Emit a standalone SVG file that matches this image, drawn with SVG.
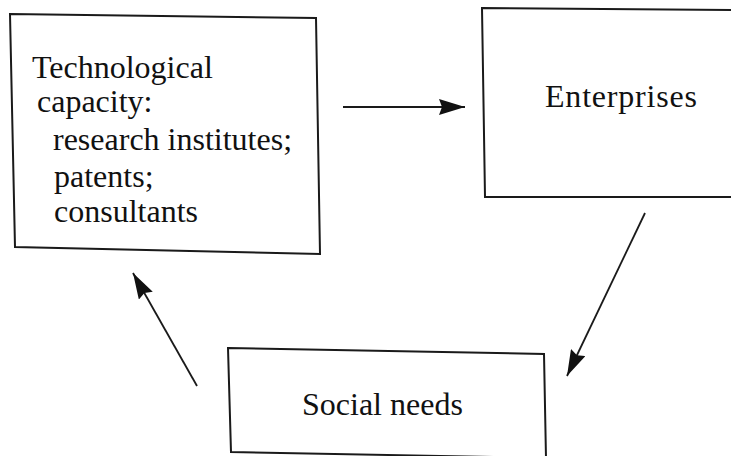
<svg xmlns="http://www.w3.org/2000/svg" width="731" height="456" viewBox="0 0 731 456">
<style>
.box{fill:none;stroke:#1a1a1a;stroke-width:2;stroke-linejoin:miter}
.t{font-family:"Liberation Serif","Times New Roman",serif;font-size:32px;fill:#111}
.c{stroke:#1a1a1a;stroke-width:1.8;fill:none;marker-end:url(#ah)}
</style>
<defs>
<marker id="ah" markerUnits="userSpaceOnUse" markerWidth="27" markerHeight="16" refX="26" refY="8" orient="auto">
<path d="M0,0 L26,8 L0,16 L3,8 Z" fill="#111"/>
</marker>
</defs>
<rect width="731" height="456" fill="#fff"/>
<g id="tech">
<polygon class="box" points="10,14 316,18 320,254 15,247"/>
<text class="t" x="32" y="78">Technological</text>
<text class="t" x="37" y="112">capacity:</text>
<text class="t" x="53" y="150">research institutes;</text>
<text class="t" x="54" y="187">patents;</text>
<text class="t" x="54" y="222">consultants</text>
</g>
<g id="enterprises">
<polygon class="box" points="732,10 482,8 485,197 732,197"/>
<text class="t" x="545" y="107" font-size="33" letter-spacing="0.8">Enterprises</text>
</g>
<g id="social">
<polygon class="box" points="228,348 544,354 546,458 231,452"/>
<text class="t" x="302" y="415" font-size="33">Social needs</text>
</g>
<g id="connectors">
<line class="c" x1="343" y1="107" x2="465" y2="107"/>
<line class="c" x1="645" y1="213" x2="567" y2="376"/>
<line class="c" x1="197" y1="386" x2="133" y2="273"/>
</g>
</svg>
